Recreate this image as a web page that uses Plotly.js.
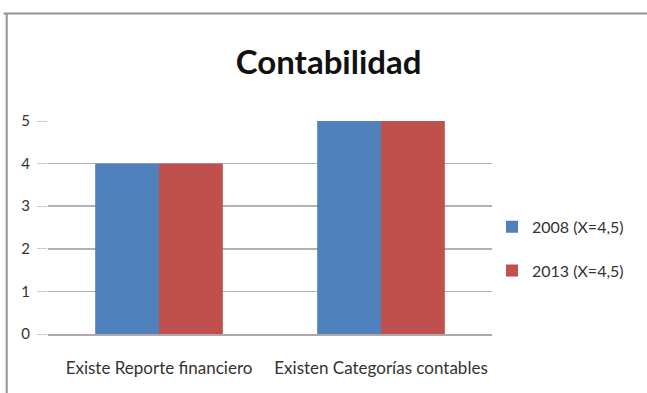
<!DOCTYPE html>
<html><head><meta charset="utf-8">
<script src="https://cdn.plot.ly/plotly-3.0.1.min.js"></script>
<style>html,body{margin:0;padding:0;background:#fff}#c{width:647px;height:393px}</style>
</head><body><div id="c"></div>
<script>
const categories = ["Existe Reporte financiero", "Existen Categorías contables"];
const seriesNames = ["2008 (X=4,5)", "2013 (X=4,5)"];
const values2008 = [4, 5];
const values2013 = [4, 5];
const yTicks = [0, 1, 2, 3, 4, 5];
const colors = ["#4F81BD", "#C0504D"];
const fontFam = "Lato, 'Open Sans', sans-serif";

const traces = [
  {type:'bar', x:categories, y:values2008, name:seriesNames[0], marker:{color:colors[0]}, legendgroup:'a'},
  {type:'bar', x:categories, y:values2013, name:seriesNames[1], marker:{color:colors[1]}, legendgroup:'b'}
];
const layout = {
  width:647, height:393,
  margin:{l:48, r:155, t:121, b:59},
  paper_bgcolor:'#fff', plot_bgcolor:'#fff',
  barmode:'group', bargap:0.425, bargroupgap:0,
  title:{text:'<b>Contabilidad</b>', x:0.508, xanchor:'center', y:0.84, yanchor:'middle', yref:'container',
         font:{family:fontFam, size:33, color:'#111'}},
  xaxis:{tickfont:{family:fontFam, size:17, color:'#333'}, showline:true, linecolor:'#b0a8a8', linewidth:1.5,
         ticks:'outside', ticklen:18, tickcolor:'rgba(0,0,0,0)'},
  yaxis:{range:[0,5], tickvals:yTicks, ticktext:yTicks.map(String), showgrid:true, gridcolor:'#b8b0ae', gridwidth:1.5,
         zeroline:false, tickfont:{family:fontFam, size:15, color:'#333'}, ticks:'outside', ticklen:10, tickcolor:'#ccc',
         showline:false, ticklabelstandoff:4},
  showlegend:true,
  legend:{x:1.0, xanchor:'left', y:0.40, yanchor:'middle', font:{family:fontFam, size:16, color:'#333'},
          tracegroupgap:20, traceorder:'grouped', itemwidth:30},
  shapes:[
    {type:'line', xref:'paper', yref:'paper', x0:-0.1, x1:1.4, y0:1.505, y1:1.505, line:{color:'#9a918c', width:2}},
    {type:'line', xref:'paper', yref:'paper', x0:-0.093, x1:-0.093, y0:1.505, y1:-0.3, line:{color:'#9a918c', width:2}}
  ]
};
Plotly.newPlot('c', traces, layout, {displayModeBar:false, staticPlot:true});
</script></body></html>
